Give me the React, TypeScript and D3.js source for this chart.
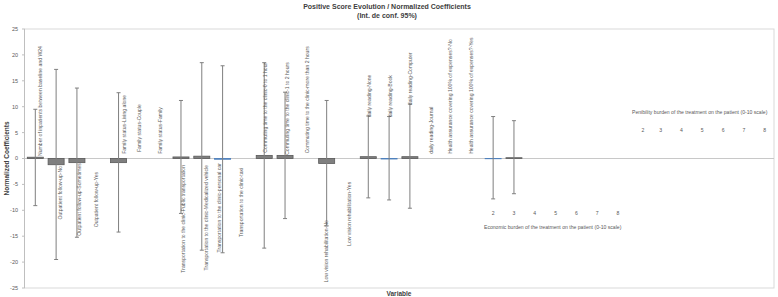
import React from "react";
import * as d3 from "d3";

const categories: string[] = [
  "Number of inpatients between baseline and W24",
  "Outpatient follow-up-No",
  "Outpatient follow-up-Sometimes",
  "Outpatient follow-up-Yes",
  "Family status-Living alone",
  "Family status-Couple",
  "Family status-Family",
  "Transportation to the clinic-Public transportation",
  "Transportation to the clinic-Medicalized vehicle",
  "Transportation to the clinic-personal car",
  "Transportation to the clinic-taxi",
  "Commuting time to the clinic-0 to 1 hour",
  "Commuting time to the clinic-1 to 2 hours",
  "Commuting time to the clinic-more than 2 hours",
  "Low vision rehabilitation-No",
  "Low vision rehabilitation-Yes",
  "daily reading-None",
  "daily reading-Book",
  "daily reading-Computer",
  "daily reading-Journal",
  "Health assurance covering 100% of expenses?-No",
  "Health assurance covering 100% of expenses?-Yes",
  "E2", "E3", "E4", "E5", "E6", "E7", "E8",
  "P2", "P3", "P4", "P5", "P6", "P7", "P8",
];

const values: (number | null)[] = [
  0.25, -1.2, -0.8, null, -0.8, null, null, 0.3, 0.45, -0.15, null, 0.6, 0.6, null,
  -0.95, null, 0.35, -0.1, 0.35, null, null, null, -0.05, 0.15,
  null, null, null, null, null, null, null, null, null, null, null, null,
];
const lower: (number | null)[] = [
  -9.1, -19.5, -15.2, null, -14.2, null, null, -10.6, -17.7, -18.2, null, -17.3, -11.6, null,
  -13.0, null, -7.6, -8.0, -9.6, null, null, null, -7.8, -6.8,
  null, null, null, null, null, null, null, null, null, null, null, null,
];
const upper: (number | null)[] = [
  9.5, 17.2, 13.6, null, 12.7, null, null, 11.2, 18.5, 17.9, null, 18.5, 12.8, null,
  11.2, null, 8.2, 8.1, 10.5, null, null, null, 8.1, 7.3,
  null, null, null, null, null, null, null, null, null, null, null, null,
];

const yTicks = [25, 20, 15, 10, 5, 0, -5, -10, -15, -20, -25];
const economicLevels = ["2", "3", "4", "5", "6", "7", "8"];
const penibilityLevels = ["2", "3", "4", "5", "6", "7", "8"];
const economicTitle = "Economic burden of the treatment on the patient (0-10 scale)";
const penibilityTitle = "Penibility burden of the treatment on the patient (0-10 scale)";

// label placement (style): side, anchor value, x nudge
const labelSide: ("up" | "down")[] = [
  "up", "down", "down", "down", "up", "up", "up", "down", "down", "down", "down",
  "up", "up", "up", "down", "down", "up", "up", "up", "up", "up", "up",
];
const labelAt: number[] = [
  0.5, -1.45, -0.9, -2.6, 0.9, 1.25, 0.9, -1.25, -1.25, -0.9, -1.8,
  1.1, 0.7, 1.0, -11.9, -4.5, 7.95, 7.95, 10.3, 0.9, 0.9, 0.9,
];
const labelDx: number[] = [
  4.5, 4, 2, -1.3, 5.5, 0, 0.5, 2.3, 4, -3.3, -2.7,
  0.8, 2.3, 0.9, 0, 1.3, 0.9, 0.8, 0.7, 0.9, -0.9, -0.7,
];
const highlighted = new Set([9, 17, 22]);

const W = 778;
const H = 297;
const FONT = "'Liberation Sans', Arial, sans-serif";
const LABEL_FILL = "#595959";

export default function App() {
  const x = d3.scaleBand<string>().domain(categories).range([24.9, 774.1]).paddingInner(0.23).paddingOuter(0.115);
  const y = d3.scaleLinear().domain([-25, 25]).range([288, 29]);
  const cx = (i: number) => (x(categories[i]) as number) + x.bandwidth() / 2;
  const bw = x.bandwidth();

  return (
    <svg width={W} height={H} style={{ position: "absolute", left: 0, top: 0, background: "#fff" }} fontFamily={FONT}>
      {/* title */}
      <text x={387} y={9} textAnchor="middle" fontSize={7} fontWeight="bold" fill="#404040">
        Positive Score Evolution / Normalized Coefficients
      </text>
      <text x={387} y={17.5} textAnchor="middle" fontSize={7} fontWeight="bold" fill="#404040">
        (Int. de conf. 95%)
      </text>

      {/* plot frame */}
      <rect x={24.5} y={y(25)} width={774 - 24.5} height={y(-25) - y(25)} fill="none" stroke="#d9d9d9" strokeWidth={1} />
      <line x1={24.5} x2={774} y1={y(0)} y2={y(0)} stroke="#c8c8c8" strokeWidth={1} />
      <line x1={24.5} x2={24.5} y1={y(25)} y2={y(-25)} stroke="#bfbfbf" strokeWidth={1} />

      {/* y axis */}
      {yTicks.map((t) => (
        <g key={t}>
          <line x1={22} x2={24.5} y1={y(t)} y2={y(t)} stroke="#bfbfbf" />
          <text x={18} y={y(t)} dy="0.35em" textAnchor="end" fontSize={5.5} fill="#595959">
            {t}
          </text>
        </g>
      ))}
      <text
        transform={`translate(6.5,${y(0)}) rotate(-90)`}
        textAnchor="middle"
        dy="0.35em"
        fontSize={6.5}
        fontWeight="bold"
        fill="#404040"
      >
        Normalized Coefficients
      </text>
      <text x={399} y={295.5} textAnchor="middle" fontSize={6.5} fontWeight="bold" fill="#404040">
        Variable
      </text>

      {/* bars */}
      {values.map((v, i) => {
        if (v === null) return null;
        const blue = highlighted.has(i);
        const top = y(Math.max(0, v));
        const h = Math.abs(y(v) - y(0));
        return (
          <rect
            key={"b" + i}
            x={x(categories[i])}
            y={top}
            width={bw}
            height={h}
            fill={blue ? "#4f81bd" : "#7f7f7f"}
            stroke={blue ? "#4f81bd" : "#595959"}
            strokeWidth={0.8}
          />
        );
      })}

      {/* error bars */}
      {values.map((v, i) => {
        const lo = lower[i];
        const hi = upper[i];
        if (v === null || lo === null || hi === null) return null;
        const c = cx(i);
        return (
          <g key={"e" + i} stroke="#7f7f7f" strokeWidth={1}>
            <line x1={c} x2={c} y1={y(hi)} y2={y(lo)} />
            <line x1={c - 2} x2={c + 2} y1={y(hi)} y2={y(hi)} />
            <line x1={c - 2} x2={c + 2} y1={y(lo)} y2={y(lo)} />
          </g>
        );
      })}

      {/* rotated category labels */}
      {labelSide.map((side, i) => {
        const lx = cx(i) + labelDx[i];
        const ly = y(labelAt[i]);
        return (
          <text
            key={"l" + i}
            transform={`translate(${lx},${ly}) rotate(-90)`}
            textAnchor={side === "up" ? "start" : "end"}
            dy="0.35em"
            fontSize={5.1}
            fill={LABEL_FILL}
          >
            {categories[i]}
          </text>
        );
      })}

      {/* economic levels */}
      {economicLevels.map((l, k) => (
        <text key={"ec" + k} x={cx(22 + k)} y={y(-10.9)} textAnchor="middle" fontSize={5.1} fill={LABEL_FILL}>
          {l}
        </text>
      ))}
      <text x={484} y={y(-13.6)} fontSize={5.1} fill={LABEL_FILL}>
        {economicTitle}
      </text>

      {/* penibility levels */}
      {penibilityLevels.map((l, k) => (
        <text key={"pn" + k} x={cx(29 + k) + (k === 0 ? 4 : 1)} y={y(5.2)} textAnchor="middle" fontSize={5.1} fill={LABEL_FILL}>
          {l}
        </text>
      ))}
      <text x={632} y={y(8.6)} fontSize={5.1} fill={LABEL_FILL}>
        {penibilityTitle}
      </text>
    </svg>
  );
}
